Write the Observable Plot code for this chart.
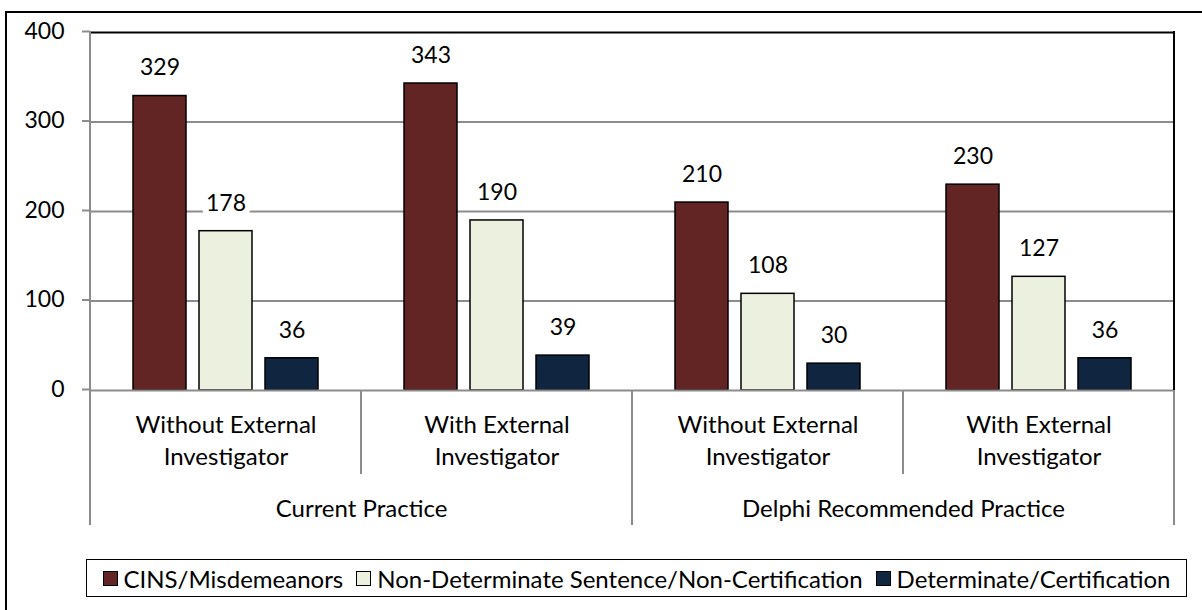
<!DOCTYPE html>
<html><head><meta charset="utf-8">
<script src="https://cdn.jsdelivr.net/npm/d3@7"></script>
<script src="https://cdn.jsdelivr.net/npm/@observablehq/plot@0.6"></script>
<style>
body{margin:0;width:1202px;height:610px;overflow:hidden;background:#fff;font-family:Lato, sans-serif;position:relative}
#outer{position:absolute;left:5px;top:11px;width:1300px;height:700px;border-left:2px solid #000;border-top:2px solid #000;box-sizing:border-box}
#chart{position:absolute;left:0;top:0}
#legend{position:absolute;left:86px;top:559px;width:1101px;height:38px;border:1.5px solid #000;box-sizing:border-box;display:flex;align-items:center;justify-content:center;gap:13px;font-size:24px;color:#000;background:#fff}
.item{display:flex;align-items:center;gap:6px;white-space:nowrap}
.sw{width:15px;height:15px;border:1.5px solid #000;box-sizing:border-box}
</style></head><body>
<div id="outer"></div><div id="chart"></div><div id="legend"></div>
<script>
const categories = ["Without External\nInvestigator","With External\nInvestigator","Without External\nInvestigator","With External\nInvestigator"];
const groups = ["Current Practice","Current Practice","Delphi Recommended Practice","Delphi Recommended Practice"];
const series = ["CINS/Misdemeanors","Non-Determinate Sentence/Non-Certification","Determinate/Certification"];
const cins = [329,343,210,230];
const nonDet = [178,190,108,127];
const det = [36,39,30,36];
const colors = ["#632523","#EBF1DE","#10253F"];
const yTicks = [0,100,200,300,400];

const keys = categories.map((c,i)=>groups[i]+"|"+c);
const valuesBySeries = [cins, nonDet, det];
const data = keys.flatMap((k,i)=>series.map((s,j)=>({key:k, series:s, value:valuesBySeries[j][i]})));
const groupLabels = [{key:keys[1], label:groups[0]}, {key:keys[3], label:groups[2]}];

const plot = Plot.plot({
  width:1202, height:545, marginLeft:89, marginRight:27, marginTop:32, marginBottom:155,
  style:{fontFamily:"Lato, sans-serif", fontSize:"23px", color:"#000", background:"transparent", overflow:"visible"},
  fx:{domain:keys, padding:0, axis:null},
  x:{domain:series, paddingInner:0.194, paddingOuter:0.62, axis:null},
  y:{domain:[0,400], axis:null},
  color:{domain:series, range:colors},
  marks:[
    Plot.ruleY([100,200,300], {stroke:"#8c8c8c", strokeWidth:2}),
    Plot.ruleY([400], {stroke:"#000", strokeWidth:2}),
    Plot.axisY({ticks:yTicks, tickSize:8, tickPadding:18, stroke:"#8c8c8c", strokeWidth:2, fill:"#000", label:null, fontSize:23, dy:-1}),
    Plot.barY(data, {fx:"key", x:"series", y:"value", fill:"series", stroke:"#000", strokeWidth:1.5}),
    Plot.ruleY([0], {stroke:"#8c8c8c", strokeWidth:2}),
    Plot.text(data, {fx:"key", x:"series", y:"value", text:d=>String(d.value), dy:-28, lineAnchor:"middle", stroke:"white", strokeWidth:12, fill:"#000", fontSize:23}),
    Plot.text(keys, {fx:d=>d, text:d=>d.split("|")[1], frameAnchor:"bottom", dy:19, lineAnchor:"top", lineHeight:1.35, fill:"#000", fontSize:24}),
    Plot.text(groupLabels, {fx:"key", text:"label", frameAnchor:"bottom-left", textAnchor:"middle", dy:119, lineAnchor:"middle", fill:"#000", fontSize:24})
  ]
});
document.getElementById("chart").appendChild(plot);

// category divider lines from the fx scale
const fx = plot.scale("fx");
const y = plot.scale("y");
const svg = d3.select(plot);
const y0 = y.apply(0), yTop = y.apply(400);
const xs = keys.map(k=>fx.apply(k));
const xEnd = xs[xs.length-1] + fx.bandwidth;
const g = svg.append("g").attr("stroke-width",2);
xs.forEach((x,i)=>{
  const long = i % 2 === 0;
  g.append("line").attr("x1",x).attr("x2",x).attr("y1", i===0 ? yTop-1 : y0).attr("y2", y0 + (long ? 135 : 84)).attr("stroke","#8c8c8c");
});
g.append("line").attr("x1",xEnd).attr("x2",xEnd).attr("y1",yTop-1).attr("y2",y0).attr("stroke","#000");
g.append("line").attr("x1",xEnd).attr("x2",xEnd).attr("y1",y0).attr("y2",y0+135).attr("stroke","#8c8c8c");

// legend
const legend = d3.select("#legend");
series.forEach((s,i)=>{
  const it = legend.append("div").attr("class","item");
  it.append("div").attr("class","sw").style("background", colors[i]);
  it.append("span").text(s);
});
</script>
</body></html>
